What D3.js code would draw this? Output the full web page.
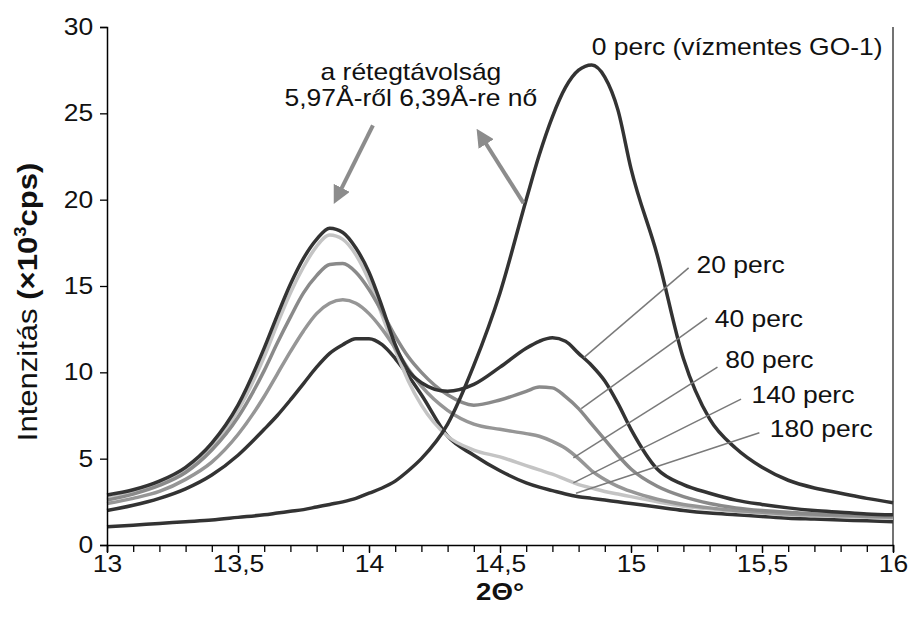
<!DOCTYPE html>
<html>
<head>
<meta charset="utf-8">
<script src="https://cdn.jsdelivr.net/npm/d3@7"></script>
<style>
  body { margin: 0; background: #fff; }
  svg { display: block; font-family: "Liberation Sans", Arial, sans-serif; }
</style>
</head>
<body>
<svg id="chart" width="908" height="635"></svg>
<script>
// 2-theta grid (deg) shared by all curves
var theta = [13.0, 13.1, 13.2, 13.3, 13.4, 13.5, 13.6,
  13.65, 13.7, 13.75, 13.8, 13.85, 13.9, 13.95, 14.0, 14.05, 14.1, 14.15, 14.2,
  14.3, 14.4, 14.5, 14.6,
  14.65, 14.7, 14.75, 14.8, 14.85, 14.9, 14.95, 15.0,
  15.1, 15.2, 15.3, 15.4, 15.5, 15.6, 15.7, 15.8, 15.9, 16.0];

// intensity (x10^3 cps)
var perc0 = [1.05, 1.15, 1.25, 1.35, 1.45, 1.6, 1.75,
  1.85, 1.95, 2.05, 2.2, 2.35, 2.5, 2.7, 3.0, 3.3, 3.7, 4.3, 5.0,
  7.0, 10.4, 14.6, 20.0,
  22.6, 24.8, 26.5, 27.5, 27.8, 27.1, 25.2, 21.8,
  16.8, 10.8, 7.3, 5.6, 4.5, 3.75, 3.3, 3.0, 2.7, 2.45];
var perc20 = [2.9, 3.2, 3.7, 4.5, 5.9, 8.1, 11.4,
  13.3, 15.1, 16.6, 17.7, 18.35, 18.1, 17.2, 15.8, 13.8, 11.6, 10.1, 9.4,
  8.9, 9.3, 10.3, 11.4,
  11.8, 12.0, 11.8, 11.1, 10.4, 9.5, 8.2, 6.7,
  4.4, 3.5, 3.0, 2.6, 2.35, 2.15, 2.0, 1.9, 1.8, 1.75];
var perc40 = [2.6, 2.95, 3.45, 4.2, 5.5, 7.4, 10.1,
  11.7, 13.2, 14.6, 15.6, 16.25, 16.3, 15.8, 14.8, 13.5, 12.1, 10.9, 10.0,
  8.7, 8.1, 8.4, 8.9,
  9.15, 9.1, 8.6, 7.9, 7.0, 6.1, 5.2, 4.4,
  3.4, 2.8, 2.4, 2.15, 2.0, 1.9, 1.8, 1.75, 1.7, 1.65];
var perc80 = [2.4, 2.7, 3.1, 3.8, 4.8, 6.4, 8.6,
  9.9, 11.2, 12.4, 13.4, 14.0, 14.2, 14.0, 13.4, 12.5, 11.4, 10.2, 9.2,
  7.8, 7.0, 6.7, 6.45,
  6.3, 6.0, 5.6, 5.0, 4.3, 3.8, 3.4, 3.1,
  2.65, 2.35, 2.15, 2.0, 1.9, 1.8, 1.75, 1.7, 1.65, 1.6];
var perc140 = [2.7, 3.05, 3.55, 4.35, 5.7, 7.8, 10.9,
  12.8, 14.6, 16.1, 17.3, 17.95, 17.7, 16.8, 15.3, 13.3, 11.3, 9.5, 8.1,
  6.3, 5.5, 5.1, 4.6,
  4.35, 4.1, 3.8, 3.5, 3.3, 3.1, 2.95, 2.8,
  2.5, 2.25, 2.1, 1.95, 1.85, 1.75, 1.7, 1.65, 1.6, 1.55];
var perc180 = [2.0, 2.3, 2.7, 3.25, 4.05, 5.2, 6.7,
  7.5, 8.4, 9.35, 10.3, 11.1, 11.6, 11.95, 11.95, 11.6, 10.8, 9.8, 8.7,
  6.3, 5.2, 4.3, 3.6,
  3.35, 3.15, 2.95, 2.8, 2.7, 2.6, 2.5, 2.4,
  2.2, 2.0, 1.85, 1.75, 1.65, 1.55, 1.5, 1.45, 1.4, 1.35];

var xTicks = [13, 13.5, 14, 14.5, 15, 15.5, 16];
var yTicks = [0, 5, 10, 15, 20, 25, 30];

// label text, label anchor (theta, intensity), leader line end on curve
var labelNames = ['20 perc', '40 perc', '80 perc', '140 perc', '180 perc'];
var labelPos = [[15.25, 15.75], [15.32, 12.6], [15.36, 10.25], [15.46, 8.2], [15.53, 6.25]];
var leaderFrom = [[15.22, 16.05], [15.29, 13.15], [15.33, 10.3], [15.42, 8.45], [15.49, 6.5]];
var leaderTo = [[14.82, 10.85], [14.81, 7.9], [14.78, 5.05], [14.78, 3.6], [14.79, 3.0]];

var series = [
  {name: '180 perc', values: perc180, color: '#333333'},
  {name: '140 perc', values: perc140, color: '#c4c4c4'},
  {name: '80 perc', values: perc80, color: '#969696'},
  {name: '40 perc', values: perc40, color: '#8a8a8a'},
  {name: '20 perc', values: perc20, color: '#333333'},
  {name: '0 perc', values: perc0, color: '#333333'}
];

var svg = d3.select('#chart');
var pL = 107, pR = 893, pT = 27, pB = 545;
var sx = 1.15;  // the original text is drawn a bit wider than Arial
var fs = '23px';

var x = d3.scaleLinear().domain([13, 16]).range([pL, pR]);
var y = d3.scaleLinear().domain([0, 30]).range([pB, pT]);

// right frame line
svg.append('line')
  .attr('x1', pR).attr('x2', pR)
  .attr('y1', pT).attr('y2', pB)
  .attr('stroke', '#444').attr('stroke-width', 1.5);

// curves
var line = d3.line()
  .x(function(d) { return x(d[0]); })
  .y(function(d) { return y(d[1]); })
  .curve(d3.curveMonotoneX);

svg.selectAll('path.curve')
  .data(series)
  .enter()
  .append('path')
  .attr('class', 'curve')
  .attr('d', function(s) { return line(theta.map(function(t, i) { return [t, s.values[i]]; })); })
  .attr('fill', 'none')
  .attr('stroke', function(s) { return s.color; })
  .attr('stroke-width', 3.5)
  .attr('stroke-linejoin', 'round');

// leader lines for the labels
svg.selectAll('line.leader')
  .data(labelNames)
  .enter()
  .append('line')
  .attr('class', 'leader')
  .attr('x1', function(d, i) { return x(leaderFrom[i][0]); })
  .attr('y1', function(d, i) { return y(leaderFrom[i][1]); })
  .attr('x2', function(d, i) { return x(leaderTo[i][0]); })
  .attr('y2', function(d, i) { return y(leaderTo[i][1]); })
  .attr('stroke', '#7a7a7a')
  .attr('stroke-width', 1.5);

svg.selectAll('text.lbl')
  .data(labelNames)
  .enter()
  .append('text')
  .attr('class', 'lbl')
  .attr('transform', function(d, i) {
    return 'translate(' + x(labelPos[i][0]) + ',' + y(labelPos[i][1]) + ') scale(' + sx + ',1)';
  })
  .attr('font-size', fs)
  .attr('fill', '#111')
  .text(function(d) { return d; });

svg.append('text')
  .attr('transform', 'translate(' + x(14.85) + ',' + y(28.4) + ') scale(' + sx + ',1)')
  .attr('font-size', fs)
  .attr('fill', '#111')
  .text('0 perc (vízmentes GO-1)');

// arrows
var defs = svg.append('defs');
defs.append('marker')
  .attr('id', 'head')
  .attr('viewBox', '0 0 10 10')
  .attr('refX', 2).attr('refY', 5)
  .attr('markerWidth', 4.5).attr('markerHeight', 4.5)
  .attr('orient', 'auto')
  .append('path')
  .attr('d', 'M0,0 L10,5 L0,10 z')
  .attr('fill', '#8c8c8c');

var arrowFrom = [[14.015, 24.3], [14.59, 19.8]];
var arrowTo = [[13.89, 20.5], [14.44, 23.4]];
svg.selectAll('line.arrow')
  .data(arrowFrom)
  .enter()
  .append('line')
  .attr('class', 'arrow')
  .attr('x1', function(d) { return x(d[0]); })
  .attr('y1', function(d) { return y(d[1]); })
  .attr('x2', function(d, i) { return x(arrowTo[i][0]); })
  .attr('y2', function(d, i) { return y(arrowTo[i][1]); })
  .attr('stroke', '#8c8c8c')
  .attr('stroke-width', 4)
  .attr('marker-end', 'url(#head)');

var note = svg.append('text')
  .attr('text-anchor', 'middle')
  .attr('font-size', fs)
  .attr('fill', '#111');
note.append('tspan')
  .attr('x', 0).attr('y', 0)
  .text('a rétegtávolság');
note.append('tspan')
  .attr('x', 0).attr('y', 26)
  .text('5,97Å-ről 6,39Å-re nő');
note.attr('transform', 'translate(' + x(14.16) + ',' + y(26.95) + ') scale(' + sx + ',1)');

// axes
var fmt = function(d) { return String(d).replace('.', ','); };

var xAxis = svg.append('g')
  .attr('transform', 'translate(0,' + pB + ')')
  .call(d3.axisBottom(x).tickValues(d3.range(13, 16.001, 0.1)).tickSize(7).tickFormat(''));
xAxis.select('.domain').attr('stroke-width', 1.5);
xAxis.selectAll('.tick line').attr('stroke-width', 1.3);

var xLab = svg.append('g')
  .attr('transform', 'translate(0,' + pB + ')')
  .call(d3.axisBottom(x).tickValues(xTicks).tickSize(8).tickPadding(3).tickFormat(fmt));
xLab.select('.domain').remove();
xLab.selectAll('.tick line').attr('stroke-width', 1.3);
xLab.selectAll('.tick text')
  .attr('font-size', fs)
  .attr('font-family', '"Liberation Sans", Arial, sans-serif')
  .attr('fill', '#111')
  .attr('transform', 'scale(' + sx + ',1)');

var yAxis = svg.append('g')
  .attr('transform', 'translate(' + pL + ',0)')
  .call(d3.axisLeft(y).tickValues(yTicks).tickSize(7).tickPadding(5).tickFormat(d3.format('d')));
yAxis.select('.domain').attr('stroke-width', 1.5);
yAxis.selectAll('.tick line').attr('stroke-width', 1.3);
yAxis.selectAll('.tick text')
  .attr('font-size', fs)
  .attr('font-family', '"Liberation Sans", Arial, sans-serif')
  .attr('fill', '#111')
  .attr('transform', 'scale(' + sx + ',1)');

// axis titles
svg.append('text')
  .attr('transform', 'translate(' + ((pL + pR) / 2) + ',600) scale(' + sx + ',1)')
  .attr('text-anchor', 'middle')
  .attr('font-size', '24px')
  .attr('font-weight', 'bold')
  .attr('fill', '#111')
  .text('2Θ°');

var yTitle = svg.append('text')
  .attr('transform', 'translate(37,' + ((pT + pB) / 2 + 16) + ') rotate(-90) scale(' + sx + ',1)')
  .attr('text-anchor', 'middle')
  .attr('font-size', '27px')
  .attr('fill', '#111');
yTitle.append('tspan').text('Intenzitás ');
yTitle.append('tspan').attr('font-weight', 'bold').text('(×10');
yTitle.append('tspan').attr('font-weight', 'bold').attr('font-size', '16px').attr('dy', -11).text('3');
yTitle.append('tspan').attr('font-weight', 'bold').attr('dy', 11).text('cps)');
</script>
</body>
</html>
